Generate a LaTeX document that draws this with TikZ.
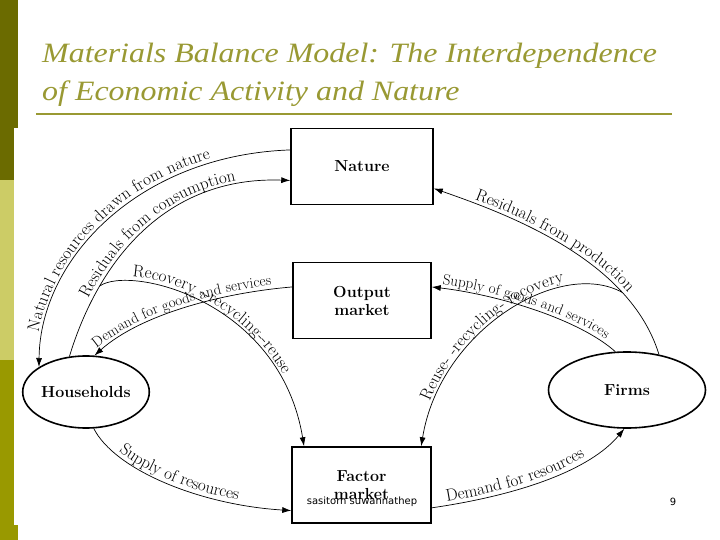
\documentclass[tikz,border=0pt]{standalone}
\usepackage{fontspec}
\usetikzlibrary{shapes.geometric,decorations.text,arrows.meta}
\newfontfamily\titlefont[FakeStretch=1.14]{Liberation Serif}
\newfontfamily\footfont{DejaVu Sans}
\newcommand\lblfont{\fontsize{17}{17}\selectfont}
\newcommand\smlblfont{\fontsize{15}{15}\selectfont}
\begin{document}
\begin{tikzpicture}[x=1pt,y=-1pt,
  box/.style={draw,line width=1.5pt,minimum width=#1,minimum height=76pt,inner sep=0pt,align=center,
    font=\bfseries\fontsize{16}{18}\selectfont},
  box/.default=139pt,
  oval/.style={ellipse,draw,line width=1.6pt,inner sep=0pt,font=\bfseries\fontsize{16}{18}\selectfont},
  flow/.style={line width=0.7pt,>={Latex[length=9pt,width=6pt]}},
  lbl/.style 2 args={postaction={decorate,decoration={text along path,raise=4pt,
    text align={left indent=#1},text={|\lblfont|#2}}}},
  slbl/.style 2 args={postaction={decorate,decoration={text along path,raise=4pt,
    text align={left indent=#1},text={|\smlblfont|#2}}}},
  heading/.style={anchor=base west,inner sep=0pt,text=titlecol,font=\titlefont\itshape\fontsize{28}{30}\selectfont}]
  \definecolor{bardark}{HTML}{6B6B00}
  \definecolor{barlight}{HTML}{CCCC66}
  \definecolor{barmid}{HTML}{999900}
  \definecolor{titlecol}{HTML}{999933}
  \useasboundingbox (0,0) rectangle (720,540);
  \fill[white] (0,0) rectangle (720,540);
  \fill[bardark] (0,0) rectangle (18,128);
  \fill[bardark] (0,128) rectangle (14,180);
  \fill[barlight] (0,180) rectangle (14,360);
  \fill[barmid] (0,360) rectangle (14,525);
  \fill[barmid] (0,525) rectangle (18,540);
  \node[heading] (t1) at (42,63) {Materials Balance Model: The Interdependence};
  \node[heading] (t2) at (42,101) {of Economic Activity and Nature};
  \draw[titlecol,line width=2.5pt] (36,114) -- (672,114);
  \node[box=142pt] (nat) at (362,166.5) {Nature};
  \node[box=138pt] (out) at (362,300.5) {Output\\market};
  \node[box] (fac) at (361.5,485) {Factor\\market};
  \node[oval,minimum width=126pt,minimum height=72pt] (hh) at (86,392) {Households};
  \node[oval,minimum width=157pt,minimum height=76pt] (firms) at (627,390) {Firms};
  \draw[flow,<-,lbl={34pt}{Natural resources drawn from nature}] (hh.152) .. controls (40,258) and (140,155) .. (nat.167);
  \draw[flow,->,lbl={60pt}{Residuals from consumption}] (hh.115) .. controls (98,262) and (165,176) .. (nat.191) coordinate[pos=0.26] (lrec);
  \draw[flow,<-,slbl={6pt}{Demand for goods and services}] (hh.77) .. controls (140,315) and (220,293) .. (out.169);
  \draw[flow,->,lbl={33pt}{Recovery --recycling--reuse}] (lrec) .. controls (130,265) and (280,300) .. (fac.146);
  \draw[flow,<-,lbl={42pt}{Residuals from production}] (nat.-17) .. controls (510,215) and (630,260) .. (firms.48) coordinate[pos=0.75] (rrec);
  \draw[flow,<-,slbl={10pt}{Supply of goods and services}] (out.11) .. controls (500,295) and (580,320) .. (firms.107);
  \draw[flow,<-,lbl={45pt}{Reuse- -recycling- recovery}] (fac.33) .. controls (440,330) and (560,258) .. (rrec);
  \draw[flow,->,lbl={35pt}{Supply of resources}] (hh.-78) .. controls (115,470) and (200,505) .. (fac.200);
  \draw[flow,->,lbl={16pt}{Demand for resources}] (fac.-18) .. controls (520,495) and (590,470) .. (firms.-94);
  \node[font=\footfont\fontsize{10}{12}\selectfont] (foot) at (362,502) {sasitorn suwannathep};
  \node[font=\footfont\fontsize{10}{12}\selectfont] (pgno) at (673,502) {9};
\end{tikzpicture}
\end{document}
